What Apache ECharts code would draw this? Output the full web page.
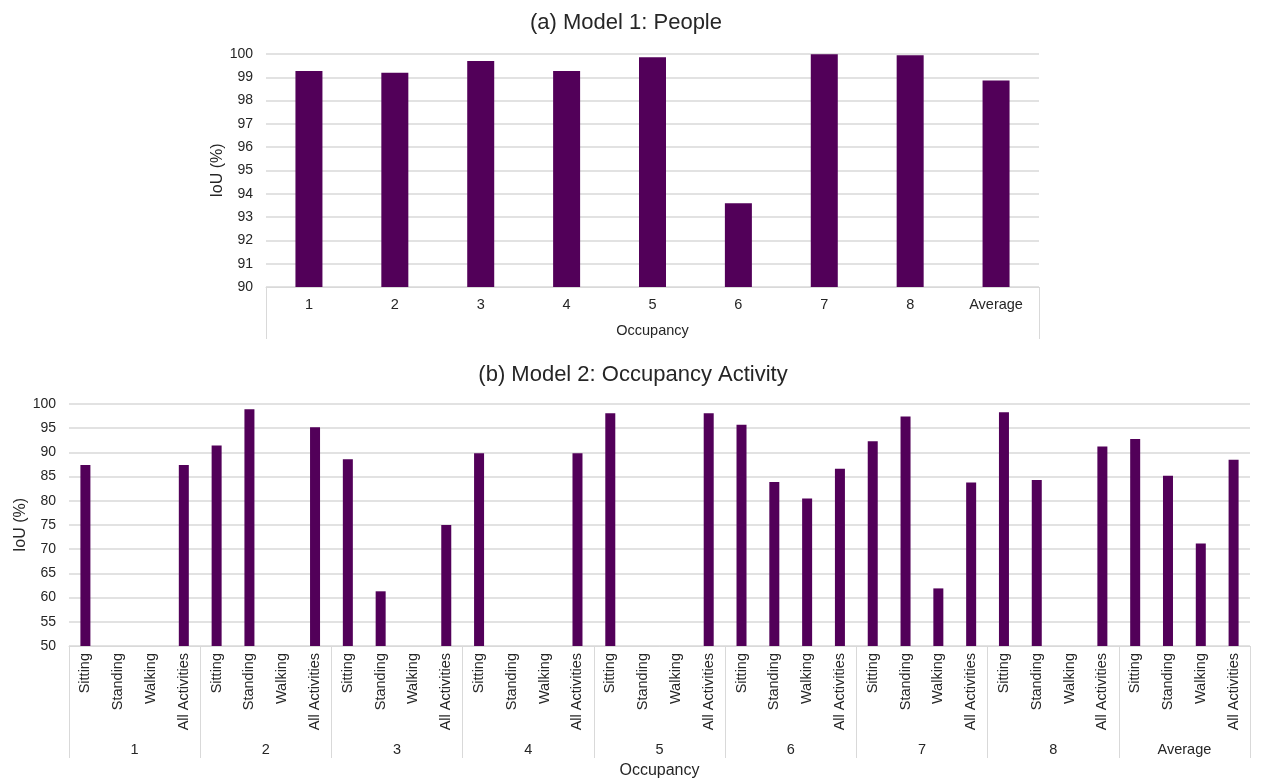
<!DOCTYPE html>
<html>
<head>
<meta charset="utf-8">
<script src="https://cdn.jsdelivr.net/npm/echarts@6/dist/echarts.min.js"></script>
<style>
  html, body { margin: 0; padding: 0; background: #fff; }
  #chart { width: 1261px; height: 779px; }
</style>
</head>
<body>
<div id="chart"></div>
<script>
// model 1 - people
var occupancy = ['1', '2', '3', '4', '5', '6', '7', '8', 'Average'];
var iouPeople = [99.27, 99.2, 99.7, 99.27, 99.86, 93.59, 99.99, 99.95, 98.86];
var groupTop = ['Occupancy'];

// model 2 - activity, one value per occupancy group
var activities = ['Sitting', 'Standing', 'Walking', 'All Activities'];
var sitting  = [87.4, 91.4, 88.6, 89.8, 98.1, 95.7, 92.3, 98.3, 92.75];
var standing = [null, 98.9, 61.3, null, null, 83.9, 97.4, 84.3, 85.2];
var walking  = [null, null, null, null, null, 80.5, 61.9, null, 71.2];
var allActs  = [87.4, 95.2, 75.0, 89.8, 98.1, 86.6, 83.8, 91.2, 88.5];

var actLabels = [];
var actValues = [];
for (var i = 0; i < occupancy.length; i++) {
  for (var j = 0; j < activities.length; j++) {
    actLabels.push(activities[j]);
  }
  actValues.push(sitting[i], standing[i], walking[i], allActs[i]);
}

var purple = '#520059';
var gridGray = '#d9d9d9';
var txt = '#262626';
var font = 'Liberation Sans';

var chart = echarts.init(document.getElementById('chart'));

var option = {
  backgroundColor: '#fff',
  textStyle: { fontFamily: font },
  title: [
    {
      text: '(a) Model 1: People',
      left: 621, top: 7, textAlign: 'center',
      textStyle: { fontSize: 22, fontWeight: 'normal', color: txt, fontFamily: font }
    },
    {
      text: '(b) Model 2: Occupancy Activity',
      left: 628, top: 359, textAlign: 'center',
      textStyle: { fontSize: 22, fontWeight: 'normal', color: txt, fontFamily: font }
    }
  ],
  grid: [
    { left: 266, right: 222, top: 54, height: 233, outerBoundsMode: 'none' },
    { left: 69, right: 11, top: 404, height: 242, outerBoundsMode: 'none' }
  ],
  xAxis: [
    {
      type: 'category', gridIndex: 0, data: occupancy, position: 'bottom',
      axisLine: { lineStyle: { color: gridGray } },
      axisTick: { show: false },
      axisLabel: { color: txt, fontSize: 14.5, margin: 10, interval: 0 }
    },
    {
      type: 'category', gridIndex: 0, data: groupTop, position: 'bottom', offset: 0,
      axisLine: { show: false },
      axisTick: { show: true, length: 52, interval: 0, lineStyle: { color: gridGray } },
      axisLabel: { color: txt, fontSize: 14.5, margin: 36 }
    },
    {
      type: 'category', gridIndex: 1, data: actLabels, position: 'bottom',
      axisLine: { lineStyle: { color: gridGray } },
      axisTick: { show: false },
      axisLabel: { color: txt, fontSize: 14.5, rotate: 90, margin: 7, interval: 0 }
    },
    {
      type: 'category', gridIndex: 1, data: occupancy, position: 'bottom', offset: 0,
      axisLine: { show: false },
      axisTick: { show: true, length: 112, interval: 0, lineStyle: { color: gridGray } },
      axisLabel: { color: txt, fontSize: 14.5, margin: 96, interval: 0 },
      name: 'Occupancy', nameLocation: 'middle', nameGap: 117, nameMoveOverlap: false,
      nameTextStyle: { color: txt, fontSize: 16 }
    }
  ],
  yAxis: [
    {
      type: 'value', gridIndex: 0, min: 90, max: 100, interval: 1,
      name: 'IoU (%)', nameLocation: 'middle', nameGap: 40, nameMoveOverlap: false,
      nameTextStyle: { color: txt, fontSize: 16 },
      axisLine: { show: false }, axisTick: { show: false },
      axisLabel: { color: txt, fontSize: 14, margin: 13 },
      splitLine: { lineStyle: { color: gridGray, width: 1.5 } }
    },
    {
      type: 'value', gridIndex: 1, min: 50, max: 100, interval: 5,
      name: 'IoU (%)', nameLocation: 'middle', nameGap: 40, nameMoveOverlap: false,
      nameTextStyle: { color: txt, fontSize: 16 },
      axisLine: { show: false }, axisTick: { show: false },
      axisLabel: { color: txt, fontSize: 14, margin: 13 },
      splitLine: { lineStyle: { color: gridGray, width: 1.5 } }
    }
  ],
  series: [
    {
      type: 'bar', xAxisIndex: 0, yAxisIndex: 0, data: iouPeople,
      barWidth: 27, itemStyle: { color: purple }
    },
    {
      type: 'bar', xAxisIndex: 2, yAxisIndex: 1, data: actValues,
      barWidth: 10, itemStyle: { color: purple }
    }
  ]
};

option && chart.setOption(option);
</script>
</body>
</html>
